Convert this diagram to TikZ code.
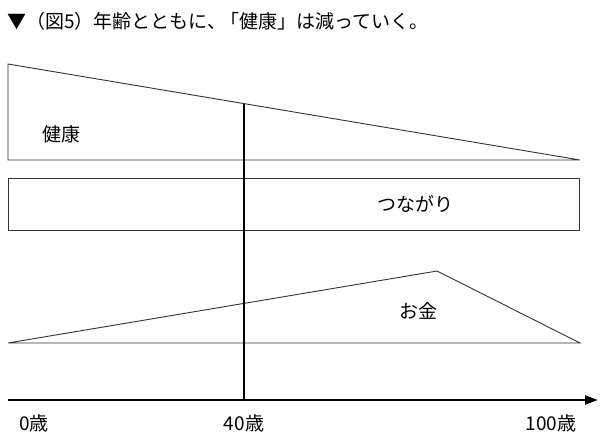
\documentclass[tikz,border=0pt]{standalone}
\usepackage{fontspec}
\newfontfamily\jp{Noto Sans CJK JP}
\usetikzlibrary{arrows.meta}
\tikzset{
  thinline/.style={draw=black!80, line width=0.9pt, line join=miter},
  thickline/.style={draw=black, line width=2.4pt},
  lbl/.style={inner sep=0pt, font=\jp\fontsize{19}{21}\selectfont},
  ttl/.style={inner sep=0pt, anchor=west, font=\jp\fontsize{19}{21}\selectfont}
}
\begin{document}
\begin{tikzpicture}[x=1pt,y=-1pt]
\useasboundingbox[fill=white] (0,0) rectangle (600,447);
% title
\node[ttl] (title) at (7,21) {▼（図5）年齢とともに、\kern-0.3em「健康」は減っていく。};
% health
\coordinate (h1) at (8,64);
\coordinate (h2) at (580,160);
\coordinate (h3) at (8,160);
\draw[thinline] (h1) -- (h2) -- (h3) -- cycle;
\node[lbl] (health) at (61,134) {健康};
% connections
\coordinate (c1) at (8,178);
\coordinate (c2) at (579,230);
\draw[thinline] (c1) rectangle (c2);
\node[lbl] (conn) at (415,204) {つながり};
% money
\coordinate (m1) at (8,343);
\coordinate (m2) at (437,271);
\coordinate (m3) at (580,343);
\draw[thinline] (m1) -- (m2) -- (m3) -- cycle;
\node[lbl] (money) at (418,311) {お金};
% axis
\coordinate (a0) at (8,400);
\coordinate (a1) at (598,400);
\coordinate (v0) at (244,103.6);
\coordinate (v1) at (244,400);
\draw[thickline] (v0) -- (v1);
\draw[thickline,-{Triangle[length=13pt,width=9pt]}] (a0) -- (a1);
\node[lbl] (l0) at (34,423) {0歳};
\node[lbl] (l40) at (244,423) {40歳};
\node[lbl] (l100) at (551,423) {100歳};
\end{tikzpicture}
\end{document}
